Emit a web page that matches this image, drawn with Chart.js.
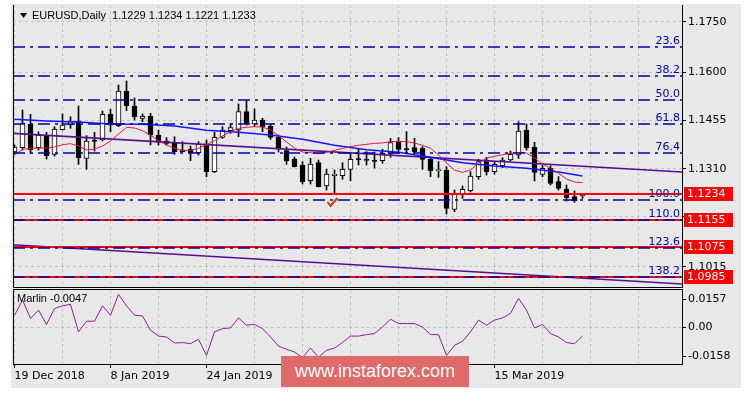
<!DOCTYPE html>
<html>
<head>
<meta charset="utf-8">
<script src="https://cdn.jsdelivr.net/npm/chart.js@4.4.0/dist/chart.umd.min.js"></script>
<style>
html, body { margin: 0; padding: 0; background: #fff; }
#wrap { position: relative; width: 753px; height: 396px; overflow: hidden; }
#bg { position: absolute; left: 11px; top: 4px; width: 730px; height: 384px; background: #e8e8e8; }
#price { position: absolute; left: 0; top: 0; }
#osc { position: absolute; left: 0; top: 288px; }
#wm { position: absolute; left: 281px; top: 356px; width: 188px; height: 31px; background: #de6a6a;
      color: #fff; font: 18px "Liberation Sans", sans-serif; line-height: 31px; text-align: center; }
</style>
</head>
<body>
<div id="wrap">
  <div id="bg"></div>
  <canvas id="price" width="753" height="290" style="width:753px;height:290px"></canvas>
  <canvas id="osc" width="753" height="108" style="width:753px;height:108px"></canvas>
  <div id="wm">www.instaforex.com</div>
</div>
<script>
// daily bars, 19 Dec 2018 .. 1 Apr 2019 (index 0..71)
const opens  = [1.1360,1.1373,1.1443,1.1373,1.1409,1.1353,1.1427,1.1441,1.1453,1.1341,
                1.1396,1.1396,1.1473,1.1439,1.1543,1.1498,1.1461,1.1468,1.1411,1.1393,
                1.1388,1.1366,1.1368,1.1358,1.1384,1.1301,1.1404,1.1424,1.1426,1.1481,
                1.1444,1.1456,1.1438,1.1405,1.1364,1.1339,1.1321,1.1274,1.1328,1.1258,
                1.1289,1.1289,1.1308,1.1338,1.1336,1.1336,1.1334,1.1356,1.1391,1.1369,
                1.1373,1.1371,1.1338,1.1304,1.1306,1.1188,1.1231,1.1244,1.1286,1.1336,
                1.1301,1.1319,1.1336,1.1351,1.1426,1.1374,1.1293,1.1311,1.1271,1.1249,
                1.1226,1.1229];
const highs  = [1.1381,1.1486,1.1473,1.1421,1.1419,1.1436,1.1474,1.1466,1.1498,1.1409,
                1.1419,1.1483,1.1488,1.1561,1.1573,1.1522,1.1474,1.1476,1.1426,1.1403,
                1.1406,1.1391,1.1378,1.1391,1.1396,1.1419,1.1436,1.1446,1.1504,1.1516,
                1.1489,1.1461,1.1444,1.1411,1.1375,1.1345,1.1331,1.1341,1.1336,1.1308,
                1.1306,1.1328,1.1356,1.1368,1.1361,1.1360,1.1368,1.1401,1.1403,1.1421,
                1.1401,1.1376,1.1344,1.1331,1.1316,1.1246,1.1258,1.1301,1.1338,1.1344,
                1.1331,1.1343,1.1363,1.1451,1.1444,1.1389,1.1321,1.1319,1.1286,1.1261,
                1.1243,1.1234];
const lows   = [1.1354,1.1366,1.1356,1.1366,1.1339,1.1348,1.1426,1.1431,1.1323,1.1308,
                1.1363,1.1393,1.1421,1.1436,1.1484,1.1456,1.1451,1.1381,1.1381,1.1381,
                1.1353,1.1360,1.1334,1.1351,1.1286,1.1298,1.1401,1.1416,1.1406,1.1441,
                1.1438,1.1421,1.1398,1.1360,1.1323,1.1315,1.1264,1.1264,1.1255,1.1246,
                1.1234,1.1278,1.1274,1.1321,1.1321,1.1312,1.1326,1.1344,1.1356,1.1356,
                1.1356,1.1308,1.1286,1.1284,1.1174,1.1181,1.1221,1.1240,1.1278,1.1291,
                1.1294,1.1313,1.1333,1.1341,1.1366,1.1273,1.1286,1.1261,1.1246,1.1213,
                1.1209,1.1221];
const closes = [1.1375,1.1446,1.1366,1.1411,1.1349,1.1429,1.1441,1.1451,1.1343,1.1393,
                1.1392,1.1473,1.1441,1.1543,1.1499,1.1466,1.1468,1.1411,1.1389,1.1386,
                1.1361,1.1361,1.1358,1.1384,1.1301,1.1404,1.1426,1.1433,1.1481,1.1446,
                1.1456,1.1436,1.1404,1.1369,1.1333,1.1316,1.1271,1.1324,1.1256,1.1294,
                1.1294,1.1308,1.1338,1.1337,1.1335,1.1332,1.1356,1.1388,1.1368,1.1367,
                1.1361,1.1338,1.1304,1.1305,1.1191,1.1234,1.1248,1.1288,1.1331,1.1301,
                1.1323,1.1336,1.1353,1.1423,1.1373,1.1299,1.1311,1.1266,1.1251,1.1223,
                1.1213,1.1233];

// moving averages
const fastMA = [1.1351,1.1368,1.1371,1.1372,1.1372,1.1375,1.1382,1.1385,1.1378,1.1366,
                1.1369,1.1378,1.1393,1.1414,1.1434,1.1432,1.1424,1.1411,1.1394,1.1381,
                1.1371,1.1365,1.1365,1.1371,1.1382,1.1394,1.1408,1.1421,1.1431,1.1434,
                1.1436,1.1435,1.1426,1.1409,1.1390,1.1372,1.1360,1.1358,1.1355,1.1359,
                1.1365,1.1371,1.1376,1.1380,1.1383,1.1386,1.1387,1.1391,1.1392,1.1391,
                1.1387,1.1380,1.1371,1.1351,1.1327,1.1306,1.1299,1.1306,1.1326,1.1342,
                1.1347,1.1352,1.1356,1.1359,1.1357,1.1342,1.1324,1.1311,1.1296,1.1279,
                1.1270,1.1268];
const slowMABars = [0,4,8,12,16,20,24,28,32,36,40,44,48,52,56,60,64,68,71];
const slowMA     = [1.1458,1.1453,1.1450,1.1444,1.1443,1.1438,1.1425,1.1419,1.1411,1.1398,
                    1.1380,1.1367,1.1359,1.1344,1.1328,1.1318,1.1311,1.1300,1.1288];

// channel trend lines (anchors)
const channelBars   = [-1, 84];
const channelTop    = [1.1417, 1.1299];
const channelBottom = [1.1083, 1.0963];

// fibonacci levels and horizontal lines
const fibLevels = ['23.6','38.2','50.0','61.8','76.4','100.0','110.0','123.6','138.2'];
const fibPrices = [1.1675,1.1588,1.1515,1.1444,1.1357,1.1215,1.1155,1.1073,1.0984];
const redLevels = [1.1234,1.1155,1.1075,1.0985];
const signalBar = 39.75, signalPrice = 1.1207;

const priceTicks = [1.1750,1.1600,1.1455,1.1310,1.1165,1.1015];
const hiddenPriceTicks = [1.1165];

// Marlin oscillator
const marlin = [0.0068,0.0152,0.0050,0.0096,0.0017,0.0105,0.0120,0.0128,-0.0024,0.0035,
                0.0035,0.0120,0.0068,0.0183,0.0120,0.0068,0.0064,-0.0015,-0.0047,-0.0052,
                -0.0085,-0.0083,-0.0089,-0.0065,-0.0154,-0.0024,-0.0006,-0.0002,0.0053,0.0013,
                0.0017,-0.0006,-0.0052,-0.0102,-0.0120,-0.0135,-0.0165,-0.0113,-0.0163,-0.0126,
                -0.0113,-0.0083,-0.0047,-0.0047,-0.0039,-0.0033,0.0003,0.0046,0.0022,0.0022,
                0.0022,0.0003,-0.0039,-0.0039,-0.0154,-0.0098,-0.0076,-0.0024,0.0041,0.0013,
                0.0041,0.0053,0.0078,0.0161,0.0096,-0.0002,0.0017,-0.0033,-0.0052,-0.0083,
                -0.0089,-0.0047];
const marlinTicks = [0.0157, 0, -0.0158];

// time axis
const gridBars   = [0,6,12,18,24,30,36,42,48,54,60,66,72,78];
const dateBars   = [0,12,24,60];
const dateLabels = ['19 Dec 2018','8 Jan 2019','24 Jan 2019','15 Mar 2019'];

const FONT = 'DejaVu Sans';
const GRID = '#c2c2c2';
const FIB = '#0000a0';
const X_MIN = -0.1875, X_MAX = 83.4375;
const AXIS_W = 71;

function pts(xs, ys) { return ys.map((v, k) => ({x: xs[k], y: v})); }

// keep the plot box where it is, whatever the tick labels want
function fixAxisY(s) { s.width = AXIS_W; s.paddingTop = 0; s.paddingBottom = 0; }
function noPadX(s) { s.paddingLeft = 0; s.paddingRight = 0; }

var overlay = {
  id: 'overlay',
  afterDatasetsDraw(chart) {
    const {ctx, chartArea: a, scales: {x, y}} = chart;
    ctx.save();
    ctx.beginPath();
    ctx.rect(a.left, a.top, a.right - a.left, a.bottom - a.top);
    ctx.clip();
    ctx.strokeStyle = '#ff0000';
    ctx.lineWidth = 2;
    redLevels.forEach(p => {
      const py = Math.round(y.getPixelForValue(p));
      ctx.beginPath(); ctx.moveTo(a.left, py); ctx.lineTo(a.right, py); ctx.stroke();
    });
    ctx.strokeStyle = FIB;
    ctx.lineWidth = 1.5;
    ctx.setLineDash([12, 5, 3, 5]);
    fibPrices.forEach(p => {
      const py = Math.round(y.getPixelForValue(p));
      ctx.beginPath(); ctx.moveTo(a.left, py); ctx.lineTo(a.right, py); ctx.stroke();
    });
    ctx.setLineDash([]);
    ctx.fillStyle = FIB;
    ctx.font = '11px "' + FONT + '"';
    ctx.textAlign = 'right';
    fibPrices.forEach((p, k) => {
      ctx.fillText(fibLevels[k], a.right - 2, Math.round(y.getPixelForValue(p)) - 3);
    });
    // signal tick
    const sx = x.getPixelForValue(signalBar), sy = y.getPixelForValue(signalPrice);
    ctx.strokeStyle = '#ff2a00';
    ctx.lineWidth = 2;
    ctx.beginPath();
    ctx.moveTo(sx - 5, sy - 1); ctx.lineTo(sx - 2, sy + 3); ctx.lineTo(sx + 5, sy - 5);
    ctx.stroke();
    ctx.restore();
  },
  afterDraw(chart) {
    const {ctx, chartArea: a, scales: {y}} = chart;
    ctx.save();
    ctx.strokeStyle = '#000';
    ctx.lineWidth = 1;
    ctx.beginPath();
    ctx.moveTo(a.left + 0.5, a.top); ctx.lineTo(a.left + 0.5, a.bottom + 0.5);
    ctx.lineTo(a.right + 1, a.bottom + 0.5);
    ctx.stroke();
    // price boxes
    ctx.font = '11px "' + FONT + '"';
    ctx.textAlign = 'left';
    ctx.textBaseline = 'middle';
    redLevels.forEach(p => {
      const py = Math.round(y.getPixelForValue(p));
      ctx.fillStyle = '#ff0000';
      ctx.fillRect(a.right + 2, py - 7, 49, 14);
      ctx.fillStyle = '#fff';
      ctx.fillText(p.toFixed(4), a.right + 5, py + 0.5);
    });
    // header
    const last = opens.length - 1;
    ctx.fillStyle = '#000';
    ctx.beginPath();
    ctx.moveTo(20, 13); ctx.lineTo(27, 13); ctx.lineTo(23.5, 18); ctx.closePath();
    ctx.fill();
    ctx.font = '11px "Liberation Sans"';
    ctx.fillText('EURUSD,Daily  ' + [opens[last], highs[last], lows[last], closes[last]]
      .map(v => v.toFixed(4)).join(' '), 32, 16);
    ctx.restore();
  }
};

var oscFrame = {
  id: 'oscFrame',
  afterDraw(chart) {
    const {ctx, chartArea: a} = chart;
    ctx.save();
    ctx.strokeStyle = '#000';
    ctx.lineWidth = 1;
    ctx.strokeRect(a.left + 0.5, a.top - 0.5, a.right - a.left, a.bottom - a.top + 1);
    ctx.fillStyle = '#000';
    ctx.font = '11px "Liberation Sans"';
    ctx.textBaseline = 'middle';
    ctx.fillText('Marlin ' + marlin[marlin.length - 1].toFixed(4), a.left + 4, a.top + 9);
    ctx.restore();
  }
};

window.onload = function () {
  new Chart(document.getElementById('price').getContext('2d'), {
    type: 'bar',
    data: {
      datasets: [
        { type: 'line', data: pts(fastMA.map((v, i) => i), fastMA), borderColor: '#e3173e',
          borderWidth: 1, pointRadius: 0, order: -4 },
        { type: 'line', data: pts(slowMABars, slowMA), borderColor: '#1414ff',
          borderWidth: 1.5, pointRadius: 0, order: -3 },
        { type: 'line', data: pts(channelBars, channelTop), borderColor: '#52108c',
          borderWidth: 1.5, pointRadius: 0, order: -2 },
        { type: 'line', data: pts(channelBars, channelBottom), borderColor: '#52108c',
          borderWidth: 1.5, pointRadius: 0, order: -1 },
        { label: 'wicks', data: lows.map((l, i) => ({x: i, y: [l, highs[i]]})),
          backgroundColor: '#000', barThickness: 1, grouped: false, order: 2 },
        { label: 'bodies', data: opens.map((o, i) => ({x: i, y: [o, closes[i]]})),
          backgroundColor: c => (c.raw && c.raw.y[1] >= c.raw.y[0]) ? '#fff' : '#000',
          borderColor: '#000', borderWidth: 1, borderSkipped: false, minBarLength: 1,
          barThickness: 5, grouped: false, order: 1 }
      ]
    },
    options: {
      responsive: false,
      animation: false,
      layout: { padding: { left: 13, top: 5, right: 0, bottom: 3 } },
      plugins: { legend: { display: false }, tooltip: { enabled: false } },
      scales: {
        x: {
          type: 'linear', min: X_MIN, max: X_MAX, offset: false,
          afterBuildTicks: s => { s.ticks = gridBars.map(v => ({value: v})); },
          afterFit: s => { s.height = 0; noPadX(s); },
          grid: { color: GRID, offset: false, drawTicks: false },
          border: { display: false, dash: [3, 3] },
          ticks: { display: false }
        },
        y: {
          position: 'right', min: 1.0955, max: 1.1801,
          afterBuildTicks: s => { s.ticks = priceTicks.map(v => ({value: v})); },
          afterFit: fixAxisY,
          grid: { color: GRID, tickColor: '#000', tickLength: 4 },
          border: { display: true, color: '#000', dash: [3, 3] },
          ticks: { padding: 2, color: '#000', font: { family: FONT, size: 11 }, autoSkip: false,
                   callback: v => hiddenPriceTicks.includes(v) ? '' : v.toFixed(4) }
        }
      }
    },
    plugins: [overlay]
  });

  new Chart(document.getElementById('osc').getContext('2d'), {
    type: 'line',
    data: {
      datasets: [{ data: marlin.map((v, i) => ({x: i, y: v})), borderColor: '#8e1f96',
                   borderWidth: 1, pointRadius: 0 }]
    },
    options: {
      responsive: false,
      animation: false,
      layout: { padding: { left: 13, top: 2, right: 0, bottom: 0 } },
      plugins: { legend: { display: false }, tooltip: { enabled: false } },
      scales: {
        x: {
          type: 'linear', min: X_MIN, max: X_MAX,
          afterBuildTicks: s => { s.ticks = gridBars.map(v => ({value: v})); },
          afterFit: s => { s.height = 32; noPadX(s); },
          grid: { color: GRID, tickLength: 4,
                  tickColor: c => (c.tick && dateBars.includes(c.tick.value)) ? '#000' : 'rgba(0,0,0,0)' },
          border: { display: false, dash: [3, 3] },
          ticks: { autoSkip: false, maxRotation: 0, align: 'start', padding: 2, color: '#000',
                   font: { family: FONT, size: 11 },
                   callback: v => { const k = dateBars.indexOf(v); return k >= 0 ? dateLabels[k] : ''; } }
        },
        y: {
          position: 'right', min: -0.0201, max: 0.0207,
          afterBuildTicks: s => { s.ticks = marlinTicks.map(v => ({value: v})); },
          afterFit: fixAxisY,
          grid: { color: c => (c.tick && c.tick.value === 0) ? GRID : 'rgba(0,0,0,0)',
                  tickColor: '#000', tickLength: 4 },
          border: { display: true, color: '#000', dash: [3, 3] },
          ticks: { padding: 2, color: '#000', font: { family: FONT, size: 11 }, autoSkip: false,
                   callback: v => v === 0 ? '0.00' : v.toFixed(4) }
        }
      }
    },
    plugins: [oscFrame]
  });
};
</script>
</body>
</html>
